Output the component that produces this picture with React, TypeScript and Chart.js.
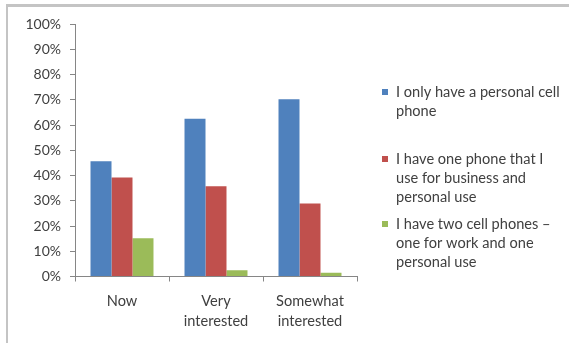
import React, { useEffect, useRef } from 'react';
import { Chart, registerables } from 'chart.js';

Chart.register(...registerables);

// Survey groups along the x axis (multi-line labels)
const categories: string[][] = [['Now'], ['Very', 'interested'], ['Somewhat', 'interested']];

// Share of respondents per phone situation (%)
const personalOnly = [45.6, 62.5, 70.2];
const oneForBoth = [39.2, 35.7, 28.9];
const twoPhones = [15.1, 2.5, 1.5];

const seriesNames = [
  'I only have a personal cell phone',
  'I have one phone that I use for business and personal use',
  'I have two cell phones \u2013 one for work and one personal use',
];

// Wrapped legend text, one array of lines per series
const legendLines: string[][] = [
  ['I only have a personal cell', 'phone'],
  ['I have one phone that I', 'use for business and', 'personal use'],
  ['I have two cell phones \u2013', 'one for work and one', 'personal use'],
];

const seriesColors = ['#4F81BD', '#C0504D', '#9BBB59'];

const FONT = 'Lato, "Open Sans", "DejaVu Sans", sans-serif';
const TEXT = '#404040';
const AXIS = '#868686';

const W = 569;
const H = 343;

// Frame lines and wrapped side legend
const framePlugin = {
  id: 'frameAndLegend',
  afterDraw(chart: Chart) {
    const ctx = chart.ctx;
    ctx.save();
    ctx.fillStyle = '#c4c4c4';
    ctx.fillRect(6, 4, W - 6, 3);
    ctx.fillRect(6, 4, 2, H - 4);

    const entryTops = [92, 159, 224];
    const lineH = 19;
    ctx.font = `14.6px ${FONT}`;
    ctx.textBaseline = 'middle';
    ctx.textAlign = 'left';
    chart.data.datasets.forEach((ds, i) => {
      const y0 = entryTops[i];
      ctx.fillStyle = ds.backgroundColor as string;
      ctx.fillRect(382, y0 - 3, 6, 6);
      ctx.fillStyle = TEXT;
      legendLines[i].forEach((line, k) => {
        ctx.fillText(line, 396, y0 + k * lineH);
      });
    });
    ctx.restore();
  },
};

export default function App() {
  const ref = useRef<HTMLCanvasElement | null>(null);

  useEffect(() => {
    document.body.style.margin = '0';
    const canvas = ref.current;
    if (!canvas) return;
    const chart = new Chart(canvas, {
      type: 'bar',
      data: {
        labels: categories,
        datasets: [personalOnly, oneForBoth, twoPhones].map((values, i) => ({
          label: seriesNames[i],
          data: values,
          backgroundColor: seriesColors[i],
          borderWidth: 0,
          categoryPercentage: 0.67,
          barPercentage: 1,
        })),
      },
      options: {
        animation: false,
        responsive: false,
        maintainAspectRatio: false,
        devicePixelRatio: 1,
        layout: { padding: { top: 24, right: 212, left: 0, bottom: 0 } },
        plugins: {
          legend: { display: false },
          tooltip: { enabled: false },
        },
        scales: {
          x: {
            grid: {
              display: true,
              drawOnChartArea: false,
              drawTicks: true,
              tickLength: 5,
              color: AXIS,
              offset: true,
            },
            border: { display: true, color: AXIS },
            ticks: {
              color: TEXT,
              font: { family: FONT, size: 14.6, lineHeight: 1.42 },
              padding: 9,
              maxRotation: 0,
              autoSkip: false,
            },
            afterFit: (s: any) => {
              s.height = H - 276.5;
            },
          },
          y: {
            min: 0,
            max: 100,
            grid: {
              display: true,
              drawOnChartArea: false,
              drawTicks: true,
              tickLength: 5,
              color: AXIS,
            },
            border: { display: true, color: AXIS },
            ticks: {
              stepSize: 10,
              color: TEXT,
              font: { family: FONT, size: 14 },
              padding: 9,
              callback: (v: any) => `${v}%`,
            },
            afterFit: (s: any) => {
              s.width = 75;
            },
          },
        },
      },
      plugins: [framePlugin],
    });
    return () => chart.destroy();
  }, []);

  return (
    <div style={{ width: W, height: H, background: '#fff' }}>
      <canvas ref={ref} width={W} height={H} style={{ display: 'block' }} />
    </div>
  );
}
